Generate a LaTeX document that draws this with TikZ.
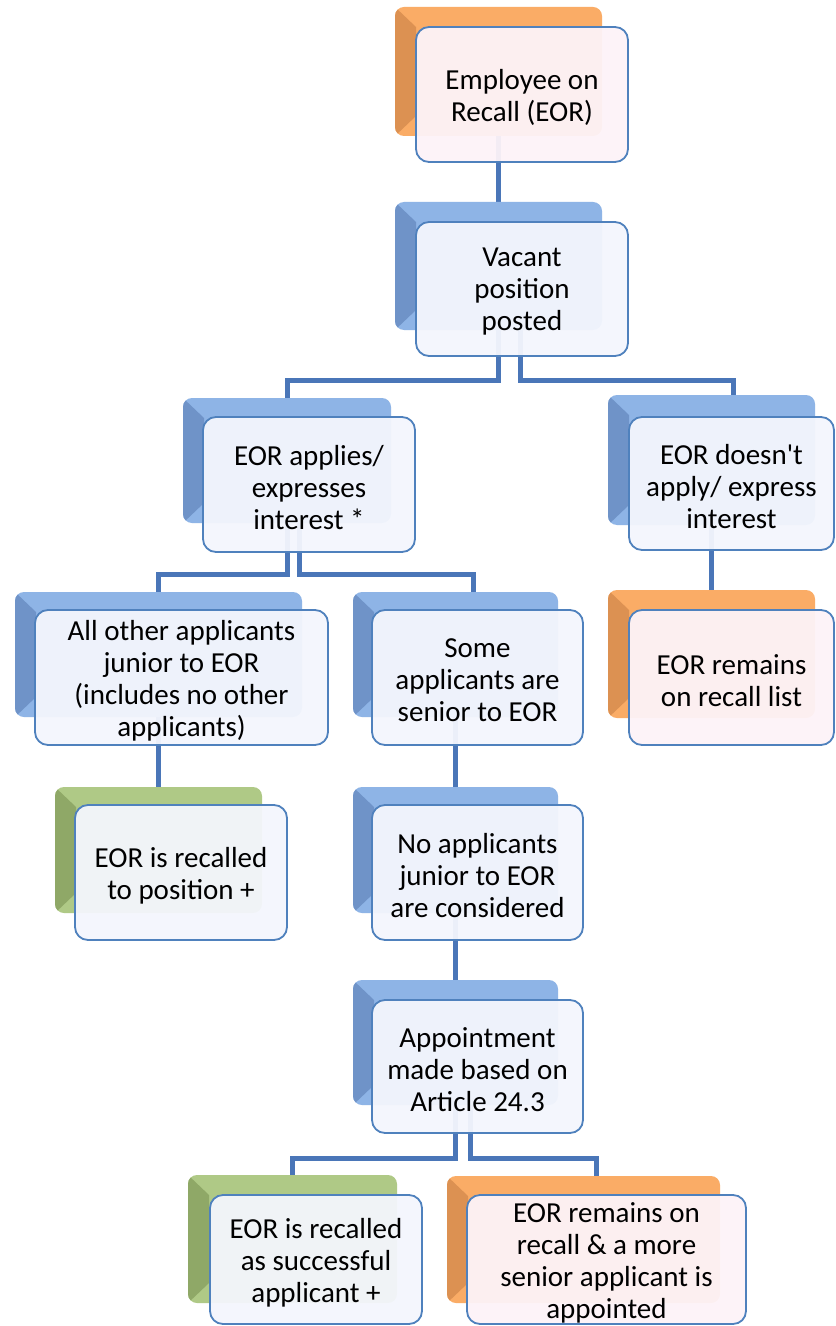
\documentclass[tikz,border=0pt]{standalone}
\usepackage{fontspec}
\setmainfont{Carlito}
\usetikzlibrary{fit}
\pgfdeclarelayer{paper}
\pgfdeclarelayer{bg}
\pgfsetlayers{paper,bg,main}
\definecolor{orangeM}{HTML}{FAAC66}
\definecolor{orangeD}{HTML}{DC9152}
\definecolor{blueM}{HTML}{8EB4E6}
\definecolor{blueD}{HTML}{6F93C8}
\definecolor{greenM}{HTML}{AFC986}
\definecolor{greenD}{HTML}{8FA867}
\definecolor{lineblue}{HTML}{4A76B8}
\definecolor{frontline}{HTML}{4F81BD}
\definecolor{frontB}{HTML}{F4F6FD}
\definecolor{frontO}{HTML}{FDF3F8}
\tikzset{
  backshape/.style={rounded corners=9bp, inner sep=0pt, draw=none},
  frontshape/.style={rounded corners=13bp, inner sep=0pt, draw=frontline, line width=1.8bp,
    fill opacity=0.95},
  boxtext/.style={inner sep=0pt, align=center, yshift=-3bp, font=\fontsize{29bp}{32bp}\selectfont},
  conn/.style={draw=lineblue, line width=5bp},
}
\newcommand\apos{{\XeTeXglyph\numexpr\XeTeXcharglyph"27\relax}}
\newcommand\backbox[6]{%
  \node[backshape, fill=#2M, fit={(#3,#4)(#5,#6)}] (#1) {};
  \begin{scope}
    \clip[rounded corners=9bp] (#3,#4) rectangle (#5,#6);
    \fill[#2D] (#3,#4) -- (#3+21,#4+20) -- (#3+21,#6-20) -- (#3,#6) -- cycle;
  \end{scope}}
\newcommand\frontbox[7]{%
  \node[frontshape, fill=#2, fit={(#3,#4)(#5,#6)}] (#1) {};
  \node[boxtext] (#1t) at (#1.center) {#7};}
\begin{document}
\begin{tikzpicture}[x=1bp,y=-1bp]
\begin{pgfonlayer}{paper}
\fill[white] (0,0) rectangle (835,1326);
\end{pgfonlayer}
\useasboundingbox (0,0) rectangle (835,1326);

\backbox{Ab}{orange}{395}{7}{602}{136}
\frontbox{Af}{frontO}{416}{27}{628}{162}{Employee on\\Recall (EOR)}
\backbox{Bb}{blue}{395}{202}{602}{330}
\frontbox{Bf}{frontB}{416}{222}{628}{356}{Vacant\\position\\posted}
\backbox{Cb}{blue}{183}{398}{391}{523}
\frontbox{Cf}{frontB}{203}{417}{415}{552}{EOR applies/\\expresses\\interest *}
\backbox{Db}{blue}{608}{395}{815}{525}
\frontbox{Df}{frontB}{629}{417}{834}{550}{EOR doesn\apos t\\apply/ express\\interest}
\backbox{Eb}{orange}{608}{590}{815}{718}
\frontbox{Ef}{frontO}{629}{610}{834}{745}{EOR remains\\on recall list}
\backbox{Fb}{blue}{15}{592}{302}{717}
\frontbox{Ff}{frontB}{35}{610}{328}{745}{All other applicants\\junior to EOR\\(includes no other\\applicants)}
\backbox{Gb}{blue}{353}{592}{558}{717}
\frontbox{Gf}{frontB}{372}{610}{583}{745}{Some\\applicants are\\senior to EOR}
\backbox{Hb}{green}{55}{787}{262}{913}
\frontbox{Hf}{frontB}{75}{805}{287}{940}{EOR is recalled\\to position +}
\backbox{Ib}{blue}{353}{787}{558}{913}
\frontbox{If}{frontB}{372}{805}{583}{940}{No applicants\\junior to EOR\\are considered}
\backbox{Jb}{blue}{353}{980}{558}{1105}
\frontbox{Jf}{frontB}{372}{1000}{583}{1133}{Appointment\\made based on\\Article 24.3}
\backbox{Kb}{green}{188}{1175}{397}{1303}
\frontbox{Kf}{frontB}{210}{1195}{422}{1324}{EOR is recalled\\as successful\\applicant +}
\backbox{Lb}{orange}{447}{1176}{720}{1303}
\frontbox{Lf}{frontO}{467}{1195}{746}{1324}{EOR remains on\\recall \& a more\\senior applicant is\\appointed}

\begin{pgfonlayer}{bg}
\draw[conn] (Ab.south) -- (Bb.north);
\draw[conn] (Bb.south) -- ++(0,50) -| (Cb.north);
\draw[conn] ([xshift=22bp]Bb.south) -- ++(0,50) -| ([xshift=22bp]Db.north);
\draw[conn] (Cb.south) -- ++(0,51) -| (Fb.north);
\draw[conn] ([xshift=12bp]Cb.south) -- ++(0,51) -| ([xshift=18bp]Gb.north);
\draw[conn] (Db.south) -- (Eb.north);
\draw[conn] (Fb.south) -- (Hb.north);
\draw[conn] (Gb.south) -- (Ib.north);
\draw[conn] (Ib.south) -- (Jb.north);
\draw[conn] (Jb.south) -- ++(0,53) -| (Kb.north);
\draw[conn] ([xshift=15bp]Jb.south) -- ++(0,53) -| ([xshift=13bp]Lb.north);
\end{pgfonlayer}
\end{tikzpicture}
\end{document}
